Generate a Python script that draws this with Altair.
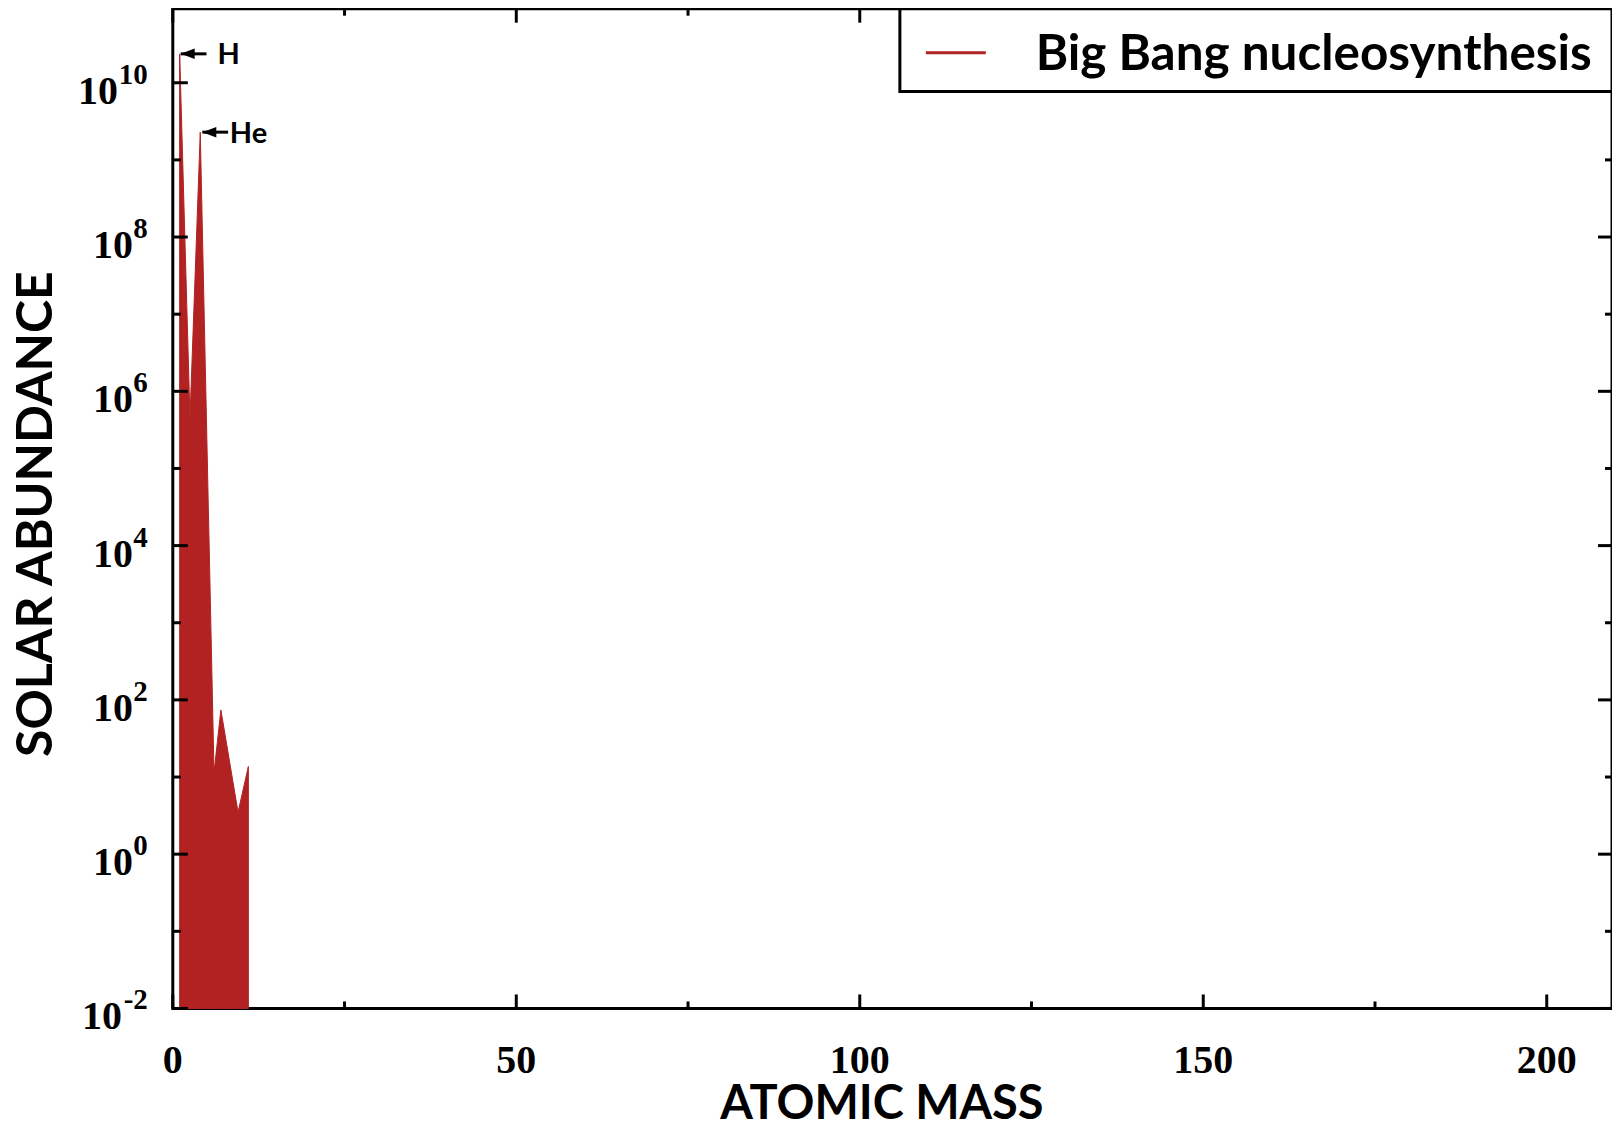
import altair as alt
import pandas as pd

# ---------------- data ----------------
mass = [1, 2.5, 4, 6, 7, 9.5, 11]
abundance = [2.37e10, 4.5e5, 2.29e9, 11.4, 74, 3.5, 13.7]
series_name = "Big Bang nucleosynthesis"

x_major_ticks = [0, 50, 100, 150, 200]
x_minor_ticks = [25, 75, 125, 175]
y_decades = list(range(-2, 11))
y_labelled_exponents = [-2, 0, 2, 4, 6, 8, 10]

x_title = "ATOMIC MASS"
y_title = "SOLAR ABUNDANCE"

anno_label = ["H", "He"]
anno_tip = [1.15, 4.3]
anno_tail = [4.9, 8.05]
anno_text_x = [6.5, 8.3]
anno_abundance = [abundance[0], abundance[2]]

# ---------------- styling ----------------
W, H = 1441, 1001
RED = "#B22222"
SERIF = "Liberation Serif"
SANS = "Lato"

xscale = alt.Scale(domain=[0, 209.5], nice=False, zero=False)
yscale = alt.Scale(type="log", domain=[0.01, 10 ** 10.96], nice=False)

series = pd.DataFrame({"mass": mass, "abundance": abundance})

area = alt.Chart(series).mark_area(color=RED, stroke=RED, strokeWidth=1).encode(
    x=alt.X("mass:Q", scale=xscale, axis=None),
    y=alt.Y("abundance:Q", scale=yscale, axis=None),
    y2=alt.datum(0.01),
)

# ---------------- y tick labels: "10" + superscript exponent ----------------
lab = pd.DataFrame({"exp": y_labelled_exponents})
lab["val"] = [10.0 ** e for e in y_labelled_exponents]
lab["sup"] = [str(e) for e in y_labelled_exponents]

yenc = alt.Y("val:Q", scale=yscale, axis=None)

main_style = dict(text="10", align="right", baseline="alphabetic", dy=21,
                  font=SERIF, fontWeight="bold", fontSize=40, color="black")
main_one = alt.Chart(lab).transform_filter("length(datum.sup) == 1").mark_text(**main_style).encode(
    x=alt.value(-40), y=yenc)
main_ten = alt.Chart(lab).transform_filter("datum.exp == 10").mark_text(**main_style).encode(
    x=alt.value(-55), y=yenc)
main_neg = alt.Chart(lab).transform_filter("datum.exp < 0").mark_text(**main_style).encode(
    x=alt.value(-51), y=yenc)
expo = alt.Chart(lab).mark_text(align="right", baseline="alphabetic", dy=1, font=SERIF,
                                fontWeight="bold", fontSize=29, color="black").encode(
    x=alt.value(-25), y=yenc, text="sup:N")

# ---------------- x tick labels ----------------
xmaj = pd.DataFrame({"v": x_major_ticks})
xmin = pd.DataFrame({"v": x_minor_ticks})
xenc = alt.X("v:Q", scale=xscale, axis=None)
xlabels = alt.Chart(xmaj).mark_text(align="center", baseline="alphabetic", font=SERIF,
                                    fontWeight="bold", fontSize=40, color="black").encode(
    x=xenc, y=alt.value(H + 65), text=alt.Text("v:Q", format="d"))

# ---------------- axis titles ----------------
titles = pd.DataFrame({"xt": [x_title], "yt": [y_title]})
xtitle = alt.Chart(titles).mark_text(align="center", baseline="alphabetic", font=SANS,
                                     fontWeight="bold", fontSize=47, color="black").encode(
    x=alt.value(710), y=alt.value(H + 111), text="xt:N")
ytitle = alt.Chart(titles).mark_text(align="center", baseline="alphabetic", angle=270, font=SANS,
                                     fontWeight="bold", fontSize=50, color="black").encode(
    x=alt.value(-121), y=alt.value(506), text="yt:N")

# ---------------- inward ticks on all four sides ----------------
dec = pd.DataFrame({"exp": y_decades})
dec["val"] = [10.0 ** e for e in y_decades]
dec["major"] = [e % 2 == 0 for e in y_decades]

tick_style = dict(color="black", strokeWidth=3)
left_major = alt.Chart(dec).transform_filter("datum.major").mark_rule(**tick_style).encode(
    x=alt.value(0), x2=alt.value(15), y=yenc)
left_minor = alt.Chart(dec).transform_filter("!datum.major").mark_rule(**tick_style).encode(
    x=alt.value(0), x2=alt.value(8), y=yenc)
right_major = alt.Chart(dec).transform_filter("datum.major").mark_rule(**tick_style).encode(
    x=alt.value(W - 14), x2=alt.value(W), y=yenc)
right_minor = alt.Chart(dec).transform_filter("!datum.major").mark_rule(**tick_style).encode(
    x=alt.value(W - 7), x2=alt.value(W), y=yenc)

bottom_major = alt.Chart(xmaj).mark_rule(**tick_style).encode(x=xenc, y=alt.value(H - 14), y2=alt.value(H))
bottom_minor = alt.Chart(xmin).mark_rule(**tick_style).encode(x=xenc, y=alt.value(H - 7), y2=alt.value(H))
top_major = alt.Chart(xmaj).mark_rule(**tick_style).encode(x=xenc, y=alt.value(0), y2=alt.value(14))
top_minor = alt.Chart(xmin).mark_rule(**tick_style).encode(x=xenc, y=alt.value(0), y2=alt.value(7))

# ---------------- H / He annotations ----------------
anno = pd.DataFrame({"label": anno_label, "tip": anno_tip, "tail": anno_tail,
                     "tx": anno_text_x, "ab": anno_abundance})
ay = alt.Y("ab:Q", scale=yscale, axis=None)
arrow_line = alt.Chart(anno).mark_rule(color="black", strokeWidth=3).encode(
    x=alt.X("tip:Q", scale=xscale, axis=None), x2="tail:Q", y=ay)
arrow_head = alt.Chart(anno).mark_point(shape="M0,0 L2,-0.75 L2,0.75 Z", filled=True, color="black",
                                         opacity=1, size=196).encode(
    x=alt.X("tip:Q", scale=xscale, axis=None), y=ay)
anno_text = alt.Chart(anno).mark_text(align="left", baseline="alphabetic", dy=10.5, font=SANS,
                                      fontWeight="bold", fontSize=29, color="black").encode(
    x=alt.X("tx:Q", scale=xscale, axis=None), y=ay, text="label:N")

# ---------------- legend ----------------
leg = pd.DataFrame({"name": [series_name]})
leg_box = alt.Chart(leg).mark_rect(fill="white", stroke="black", strokeWidth=3).encode(
    x=alt.value(728), x2=alt.value(W), y=alt.value(0), y2=alt.value(83))
leg_swatch = alt.Chart(leg).mark_rule(color=RED, strokeWidth=3).encode(
    x=alt.value(754), x2=alt.value(814), y=alt.value(44))
leg_text = alt.Chart(leg).mark_text(align="left", baseline="alphabetic", font=SANS, fontWeight="bold",
                                    fontSize=49.5, color="black").encode(
    x=alt.value(864), y=alt.value(61), text="name:N")

chart = alt.layer(
    area,
    left_major, left_minor, right_major, right_minor,
    bottom_major, bottom_minor, top_major, top_minor,
    main_one, main_ten, main_neg, expo, xlabels, xtitle, ytitle,
    arrow_line, arrow_head, anno_text,
    leg_box, leg_swatch, leg_text,
).properties(
    width=W, height=H,
    autosize=alt.AutoSizeParams(type="none"),
    padding={"left": 165, "top": 0, "right": 0, "bottom": 122},
    background="white",
).configure_view(stroke="black", strokeWidth=3)

chart.save("out.html", embed_options={"renderer": "svg", "actions": False})
